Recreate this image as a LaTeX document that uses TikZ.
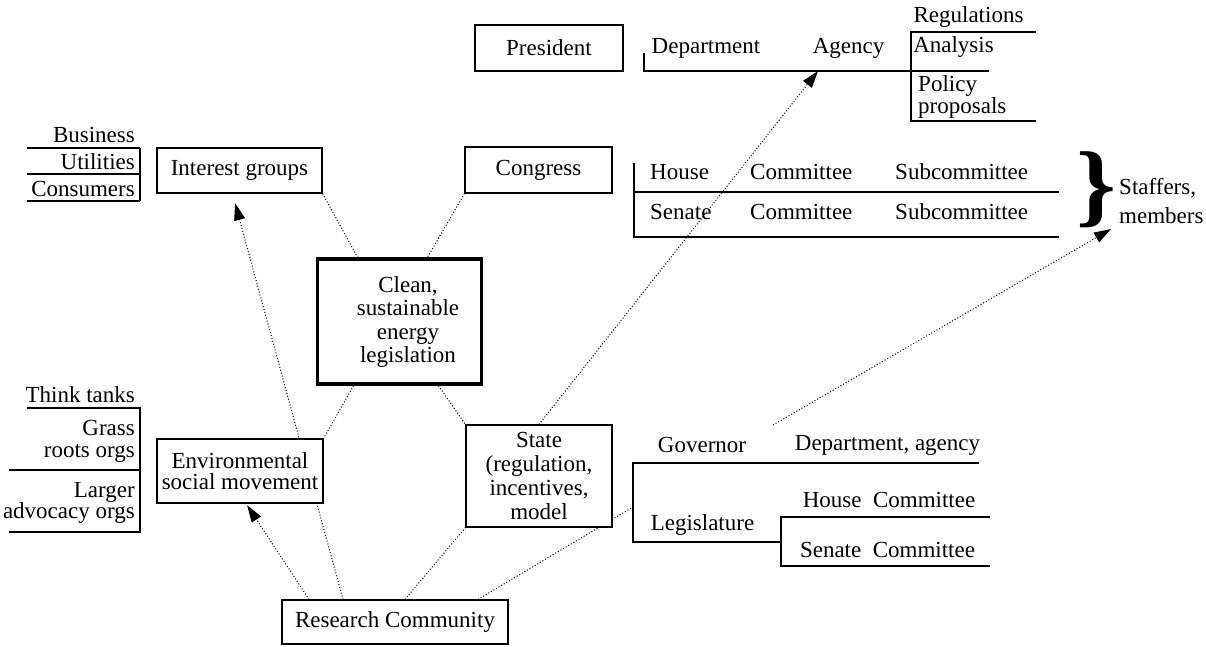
\documentclass[tikz,border=0pt]{standalone}
\usepackage{fontspec}
\setmainfont{Liberation Serif}
\usetikzlibrary{arrows.meta}
\pgfdeclarelayer{links}
\pgfsetlayers{links,main}
\begin{document}
\begin{tikzpicture}[x=1pt,y=-1pt,
  every node/.style={font=\fontsize{23}{24}\selectfont, inner sep=0pt},
  box/.style={draw, line width=1.2pt, fill=white, align=center},
  keybox/.style={draw, line width=3.5pt, fill=white},
  rule/.style={line width=1.3pt},
  link/.style={line width=1pt, dash pattern=on 1pt off 2pt},
  push/.style={link, -{Triangle[length=17pt,width=11pt]}}
]
\useasboundingbox (0,0) rectangle (1206,646);

% main boxes
\node[box, minimum width=148, minimum height=46] (pres) at (549,48) {President};
\node[box, minimum width=165, minimum height=45] (ig) at (239.5,170.5) {Interest groups};
\node[box, minimum width=147, minimum height=46] (cong) at (538.5,170) {Congress};
\node[keybox, minimum width=164, minimum height=125] (clean) at (399.5,321.5) {};
\node[align=center, font=\fontsize{23}{23.5}\selectfont] (cleantxt) at (408,322)
  {Clean,\\sustainable\\energy\\legislation};
\node[box, minimum width=166, minimum height=64, font=\fontsize{23}{21}\selectfont] (env) at (240,471)
  {Environmental\\social movement};
\node[box, minimum width=146, minimum height=102] (state) at (539,476)
  {State\\(regulation,\\incentives,\\model};
\node[box, minimum width=226, minimum height=44] (rc) at (395,622) {Research Community};

% interest group members
\node[anchor=east] (biz) at (135,135) {Business};
\node[anchor=east] (util) at (135,162) {Utilities};
\node[anchor=east] (cons) at (135,189) {Consumers};
\draw[rule] (27,148) -- (140,148) (27,174) -- (140,174) (27,201) -- (140,201) (140,148) -- (140,201);

% movement members
\node[anchor=east] (think) at (135,395) {Think tanks};
\node[anchor=east, align=right, font=\fontsize{23}{22}\selectfont] (grass) at (135,441) {Grass\\roots orgs};
\node[anchor=east, align=right, font=\fontsize{23}{21}\selectfont] (larger) at (135,502.5) {Larger\\advocacy orgs};
\draw[rule] (27,408) -- (140,408) -- (140,532) -- (9,532) (9,470) -- (140,470);

% executive branch
\node (dept) at (706,48) {Department};
\node (agency) at (848.5,48) {Agency};
\draw[rule] (644,53) -- (644,71) -- (989,71);
\node (regs) at (968.5,17) {Regulations};
\node (analysis) at (953.5,47) {Analysis};
\node[anchor=west, align=left, font=\fontsize{23}{20}\selectfont] (policy) at (918,97) {Policy\\proposals};
\draw[rule] (1036,32) -- (911,32) -- (911,121) -- (1036,121);

% congress chambers
\node[anchor=west] (house) at (650,172) {House};
\node[anchor=west] (hcom) at (750,172) {Committee};
\node[anchor=west] (hsub) at (895,172) {Subcommittee};
\node[anchor=west] (senate) at (650,212) {Senate};
\node[anchor=west] (scom) at (750,212) {Committee};
\node[anchor=west] (ssub) at (895,212) {Subcommittee};
\draw[rule] (634,163) -- (634,237) -- (1059,237) (634,192) -- (1059,192);
\node (brace) at (1096,190) {\scalebox{1.1}[1]{\fontsize{92}{92}\selectfont\bfseries\}}};
\node[anchor=west, align=left, font=\fontsize{23}{29}\selectfont] (staff) at (1119,201) {Staffers,\\members};

% state government
\node (gov) at (702,445) {Governor};
\node (deptag) at (887.5,445) {Department, agency};
\node (hcomst) at (889,500) {House\hspace{0.5em}Committee};
\node (legis) at (702.5,525) {Legislature};
\node (scomst) at (887.5,550) {Senate\hspace{0.5em}Committee};
\draw[rule] (979,463) -- (633,463) -- (633,542) -- (781,542)
            (990,517) -- (781,517) -- (781,566) -- (990,566);

% free ends of connectors
\coordinate (legjoin) at (633,507);
\coordinate (deptpoint) at (818,71);
\coordinate (govfree) at (773,425);
\coordinate (bracetip) at (1111,229);

\begin{pgfonlayer}{links}
\draw[link] (ig.south east) -- ([xshift=-42pt]clean.north);
\draw[link] (cong.south west) -- ([xshift=28pt]clean.north);
\draw[link] ([xshift=-46pt]clean.south) -- (env.north east);
\draw[link] ([xshift=39pt]clean.south) -- (state.north west);
\draw[link] ([xshift=10pt]rc.north) -- (state.south west);
\draw[link] ([xshift=83pt]rc.north) -- (legjoin);
\draw[push, shorten >=10pt] ([xshift=-52pt]rc.north) -- ([xshift=-7pt]ig.south);
\draw[push, shorten >=2pt] ([xshift=-86pt]rc.north) -- ([xshift=6pt]env.south);
\draw[push] (state.north) -- (deptpoint);
\draw[push] (govfree) -- (bracetip);
\end{pgfonlayer}
\end{tikzpicture}
\end{document}
